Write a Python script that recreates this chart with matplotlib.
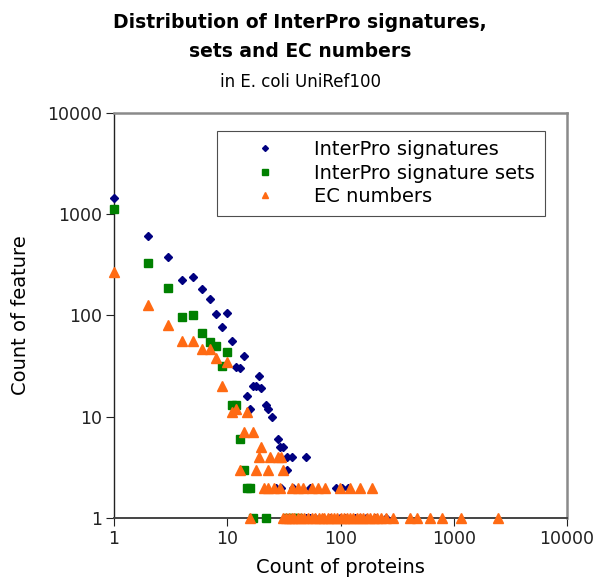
import matplotlib
matplotlib.use("Agg")
import matplotlib.pyplot as plt

# InterPro signatures (count of proteins -> count of feature)
sig_x = [1, 2, 3, 4, 5, 6, 7, 8, 9, 10, 11, 12, 13, 14, 15, 16, 17, 18, 19, 20,
         22, 23, 25, 28, 29, 31, 34, 34, 37, 50,
         27, 30, 38, 54, 92, 104, 117,
         50, 54, 60, 70, 80, 99, 110, 134, 150, 169, 200, 254]
sig_y = [1450, 610, 377, 224, 241, 182, 145, 103, 76, 105, 56, 31, 30, 40, 16, 12, 20, 20, 25, 19,
         13, 12, 10, 6, 5, 5, 4, 3, 4, 4,
         2, 2, 2, 2, 2, 2, 2,
         1, 1, 1, 1, 1, 1, 1, 1, 1, 1, 1, 1]

# InterPro signature sets
set_x = [1, 2, 3, 4, 5, 6, 7, 8, 9, 10, 11, 12, 13, 14, 15, 16, 17, 22, 34, 38, 42]
set_y = [1120, 325, 187, 97, 101, 67, 54, 50, 32, 43, 13, 13, 6, 3, 2, 2, 1, 1, 1, 1, 1]

# EC numbers
ec_x = [1, 2, 3, 4, 5, 6, 7, 8, 9, 10, 11, 12, 13, 14, 15, 17, 18, 19, 20, 23, 24, 28, 30, 31,
        21, 23, 26, 29, 37, 42, 47, 56, 63, 73, 99, 121, 150, 190,
        16, 31, 33, 35, 37, 39, 42, 45, 48, 52, 56, 60, 64, 68, 72, 77, 82, 88, 94, 100,
        107, 114, 122, 130, 139, 148, 158, 170, 182, 196, 210, 228, 250,
        292, 410, 475, 615, 780, 1155, 2466]
ec_y = [265, 127, 81, 56, 56, 47, 47, 38, 20, 35, 11, 12, 3, 7, 11, 7, 3, 4, 5, 3, 4, 4, 4, 3,
        2, 2, 2, 2, 2, 2, 2, 2, 2, 2, 2, 2, 2, 2,
        1, 1, 1, 1, 1, 1, 1, 1, 1, 1, 1, 1, 1, 1, 1, 1, 1, 1, 1, 1,
        1, 1, 1, 1, 1, 1, 1, 1, 1, 1, 1, 1, 1,
        1, 1, 1, 1, 1, 1, 1]

ticks = [1, 10, 100, 1000, 10000]
tick_labels = ["1", "10", "100", "1000", "10000"]

fig = plt.figure(figsize=(6.0, 5.84), dpi=100)
ax = fig.add_axes([0.19, 0.113, 0.755, 0.694])

ax.plot(sig_x, sig_y, linestyle="none", marker="D", markersize=4,
        color="#000080", label="InterPro signatures", clip_on=False, zorder=3)
ax.plot(set_x, set_y, linestyle="none", marker="s", markersize=6,
        color="#008000", label="InterPro signature sets", clip_on=False, zorder=3)
ax.plot(ec_x, ec_y, linestyle="none", marker="^", markersize=6.5,
        color="#ff6a13", label="EC numbers", clip_on=False, zorder=3)

ax.set_xscale("log")
ax.set_yscale("log")
ax.set_xlim(1, 10000)
ax.set_ylim(1, 10000)
ax.set_xticks(ticks)
ax.set_xticklabels(tick_labels)
ax.set_yticks(ticks)
ax.set_yticklabels(tick_labels)
ax.minorticks_off()
ax.tick_params(direction="out", length=6, width=0.8, labelsize=12.5, pad=2.5,
               top=False, right=False, colors="#222222")

ax.spines["left"].set_color("#222222")
ax.spines["left"].set_linewidth(1.0)
ax.spines["bottom"].set_color("#444444")
ax.spines["bottom"].set_linewidth(1.4)
for side in ["top", "right"]:
    ax.spines[side].set_color("#8a8a8a")
    ax.spines[side].set_linewidth(1.8)

ax.set_xlabel("Count of proteins", fontsize=14)
ax.set_ylabel("Count of feature", fontsize=14)
ax.xaxis.set_label_coords(0.5, -0.098)
ax.yaxis.set_label_coords(-0.185, 0.5)

fig.text(0.5, 0.962, "Distribution of InterPro signatures,", ha="center", va="center",
         fontsize=13.5, fontweight="bold")
fig.text(0.5, 0.912, "sets and EC numbers", ha="center", va="center",
         fontsize=13.5, fontweight="bold")
fig.text(0.5, 0.860, "in E. coli UniRef100", ha="center", va="center", fontsize=12)

leg = ax.legend(loc="upper left", bbox_to_anchor=(0.227, 0.956), borderaxespad=0,
                fontsize=14, frameon=True, fancybox=False, edgecolor="#222222",
                handlelength=4.0, handletextpad=0.5, borderpad=0.5,
                labelspacing=0.22, markerscale=0.75)
leg.get_frame().set_linewidth(0.8)

fig.savefig("out.png", dpi=100)
